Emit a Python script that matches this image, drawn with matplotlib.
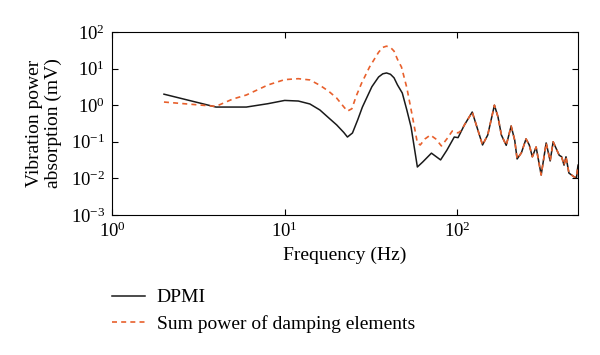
import matplotlib
matplotlib.use('Agg')
import matplotlib.pyplot as plt

# DPMI curve (frequency in Hz, power in mV)
f_dpmi = [2, 4, 6, 8, 10, 12, 14, 16, 18, 20, 22, 23.1, 24.7, 26.5, 28.2, 32, 35,
          37, 38.9, 41, 43, 45, 48, 51, 54, 58.7, 63, 70.8, 80, 87, 96, 101, 110,
          122, 130, 140, 150, 164, 172, 180, 192, 205, 215, 222, 235, 250, 261,
          272, 286, 306, 327, 345, 359, 389, 402, 415, 426, 443, 475, 490, 500]
p_dpmi = [2.0, 0.89, 0.89, 1.1, 1.35, 1.3, 1.08, 0.74, 0.45, 0.29, 0.18, 0.135,
          0.174, 0.4, 0.89, 3.2, 5.9, 7.2, 7.6, 7.0, 5.6, 3.6, 2.15, 0.74, 0.25,
          0.0205, 0.028, 0.049, 0.032, 0.059, 0.135, 0.13, 0.29, 0.65, 0.25,
          0.082, 0.153, 1.0, 0.48, 0.153, 0.08, 0.27, 0.11, 0.034, 0.05, 0.12,
          0.082, 0.039, 0.072, 0.0124, 0.093, 0.03, 0.1, 0.043, 0.039, 0.023,
          0.039, 0.014, 0.011, 0.0105, 0.023]

# Sum power of damping elements
f_sum = [2, 4, 5, 6, 8, 10, 12, 14, 16, 18, 20, 22, 23.1, 24.5, 26, 27.9, 31, 35,
         37, 38.9, 41, 43, 45, 47.5, 51, 55, 58.7, 61, 65, 69.8, 75, 80.9, 87,
         93.5, 101, 105, 110, 122, 130, 140, 150, 164, 172, 180, 192, 205, 215,
         222, 235, 250, 261, 272, 286, 306, 327, 345, 359, 389, 402, 415, 426,
         443, 475, 490, 500]
p_sum = [1.22, 0.93, 1.47, 1.9, 3.57, 5.0, 5.3, 4.9, 3.5, 2.4, 1.57, 0.9, 0.69,
         0.8, 1.8, 4.0, 11, 28, 38, 41, 38, 30, 18, 11, 3.0, 0.48, 0.093, 0.082,
         0.12, 0.153, 0.12, 0.077, 0.12, 0.197, 0.175, 0.2, 0.29, 0.65, 0.25,
         0.082, 0.153, 1.0, 0.48, 0.153, 0.08, 0.27, 0.11, 0.034, 0.05, 0.12,
         0.082, 0.039, 0.072, 0.0124, 0.093, 0.03, 0.1, 0.043, 0.039, 0.023,
         0.039, 0.014, 0.011, 0.0105, 0.023]

x_ticks = [1, 10, 100]
y_ticks = [1e-3, 1e-2, 1e-1, 1, 10, 100]

plt.rcParams['font.family'] = ['Liberation Serif', 'DejaVu Serif']
plt.rcParams['mathtext.fontset'] = 'custom'
plt.rcParams['mathtext.rm'] = 'Liberation Serif'
plt.rcParams['mathtext.it'] = 'Liberation Serif:italic'

fig = plt.figure(figsize=(6, 3.55), dpi=100)
ax = fig.add_axes([112/600, 1 - 215/355, 466/600, 183/355])

ax.plot(f_dpmi, p_dpmi, color='#1a1a1a', lw=1.1, label='DPMI')
ax.plot(f_sum, p_sum, color='#e8602c', lw=1.2, ls=(0, (3, 2.5)),
        label='Sum power of damping elements')

ax.set_xscale('log')
ax.set_yscale('log')
ax.set_xlim(1, 500)
ax.set_ylim(1e-3, 1e2)
ax.set_xticks(x_ticks)
ax.set_yticks(y_ticks)
ax.minorticks_off()
ax.tick_params(which='both', direction='in', top=True, right=True,
               length=4, width=0.8, labelsize=13.5, pad=5)

ax.set_xlabel('Frequency (Hz)', fontsize=14, labelpad=4)
ax.set_ylabel('Vibration power\nabsorption (mV)', fontsize=14,
              linespacing=1.15, labelpad=6)

fig.legend(loc='center left', bbox_to_anchor=(112/600, 1 - 311/355),
           frameon=False, fontsize=14, borderpad=0, borderaxespad=0,
           handlelength=1.7, handletextpad=0.6, labelspacing=0.45)

plt.savefig('out.png', dpi=100)
